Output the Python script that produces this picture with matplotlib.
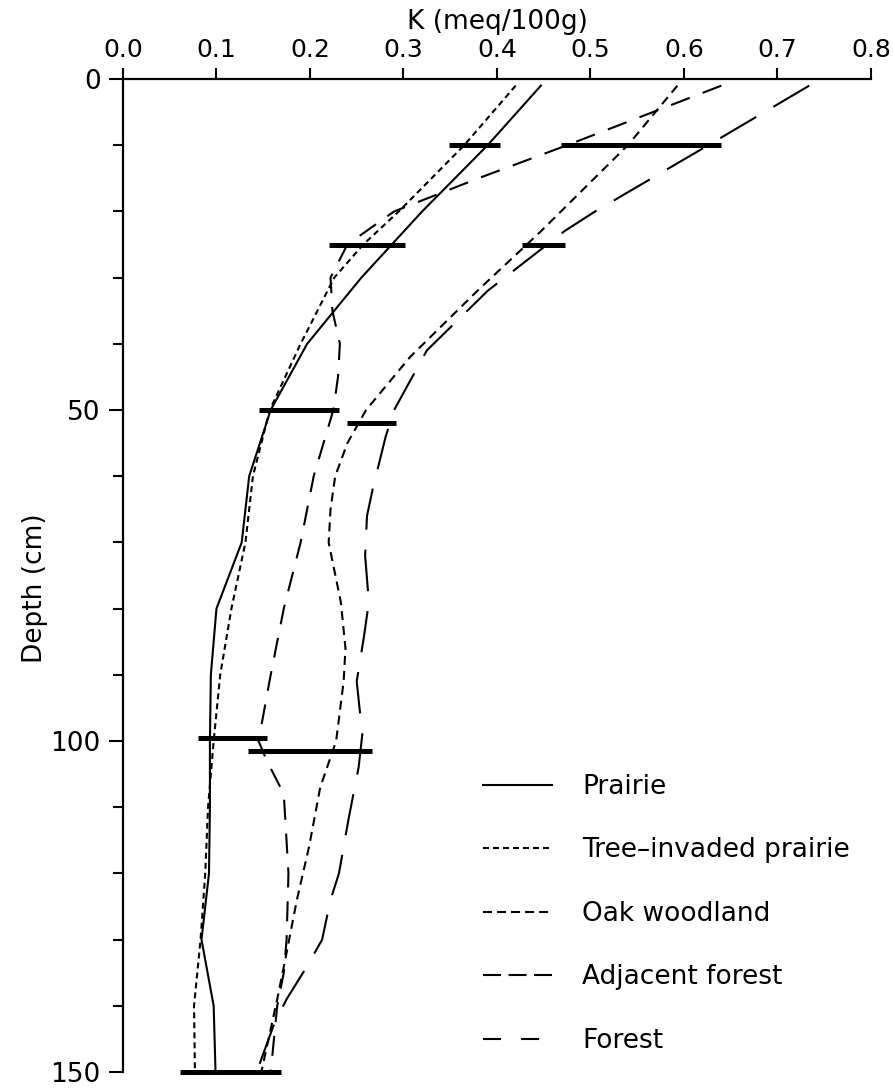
import numpy as np
import matplotlib
matplotlib.use("Agg")
import matplotlib.pyplot as plt
from matplotlib.lines import Line2D
from matplotlib.ticker import MultipleLocator

plt.rcParams["font.family"] = ["DejaVu Sans"]
plt.rcParams["lines.scale_dashes"] = False

# K (meq/100g) profiles, depth in cm
prairie_depth = [1, 10, 20, 30, 40, 50, 60, 70, 80, 90, 100, 110, 120, 130, 140, 150]
prairie_k = [0.447, 0.390, 0.320, 0.255, 0.197, 0.158, 0.135, 0.127, 0.100, 0.094,
             0.093, 0.093, 0.092, 0.084, 0.097, 0.099]

tree_depth = [1, 10, 20, 25, 30, 40, 50, 60, 70, 80, 90, 100, 110, 120, 130, 140, 150]
tree_k = [0.420, 0.365, 0.295, 0.257, 0.226, 0.190, 0.157, 0.139, 0.131, 0.116,
          0.104, 0.097, 0.091, 0.088, 0.083, 0.076, 0.077]

oak_depth = [1, 10, 23, 32, 42, 50, 55, 60, 65, 70, 79, 86, 91, 100, 107, 116,
             124, 132, 139, 150]
oak_k = [0.593, 0.540, 0.447, 0.379, 0.307, 0.260, 0.240, 0.227, 0.222, 0.220,
         0.233, 0.238, 0.236, 0.228, 0.211, 0.199, 0.186, 0.175, 0.165, 0.148]

adj_depth = [1, 10, 15, 20, 25, 30, 35, 40, 45, 50, 60, 70, 80, 90, 100, 103,
             108, 120, 130, 135, 140, 150]
adj_k = [0.640, 0.475, 0.380, 0.290, 0.240, 0.222, 0.224, 0.232, 0.230, 0.225,
         0.204, 0.190, 0.172, 0.158, 0.145, 0.154, 0.172, 0.177, 0.175, 0.172,
         0.165, 0.158]

forest_depth = [1, 10, 20, 23, 32, 41, 50, 54, 62, 66, 72, 79, 84, 91, 99, 104,
                112, 120, 124, 130, 134, 139, 143, 150]
forest_k = [0.734, 0.626, 0.505, 0.472, 0.390, 0.325, 0.290, 0.281, 0.267, 0.261,
            0.259, 0.263, 0.258, 0.250, 0.256, 0.252, 0.241, 0.231, 0.222, 0.213,
            0.197, 0.175, 0.161, 0.143]

# horizontal error bars
bar_depth = [10, 10, 25, 25, 50, 52, 99.5, 101.5, 150]
bar_center = [0.376, 0.554, 0.261, 0.450, 0.188, 0.266, 0.117, 0.200, 0.115]
bar_half = [0.027, 0.086, 0.041, 0.023, 0.043, 0.026, 0.037, 0.066, 0.054]

labels = ["Prairie", "Tree\u2013invaded prairie", "Oak woodland",
          "Adjacent forest", "Forest"]

fig = plt.figure(figsize=(8.93, 10.9), dpi=100)
ax = fig.add_axes([0.1377, 0.0165, 0.8376, 0.911])

lw = 1.5
ax.plot(prairie_k, prairie_depth, color="black", lw=lw)
ax.plot(tree_k, tree_depth, color="black", lw=lw, dashes=(4.3, 2.9))
ax.plot(oak_k, oak_depth, color="black", lw=lw, dashes=(6.5, 4.3))
ax.plot(adj_k, adj_depth, color="black", lw=lw, dashes=(14.4, 10))
ax.plot(forest_k, forest_depth, color="black", lw=lw, dashes=(30, 14.4))

ax.errorbar(bar_center, bar_depth, xerr=bar_half, fmt="none", ecolor="black",
            elinewidth=3.6, capsize=0, clip_on=False)

ax.set_xlim(0, 0.8)
ax.set_ylim(150, 0)
ax.spines["right"].set_visible(False)
ax.spines["bottom"].set_visible(False)
ax.spines["top"].set_linewidth(1.6)
ax.spines["left"].set_linewidth(1.6)

ax.xaxis.tick_top()
ax.xaxis.set_label_position("top")
ax.set_xticks(np.arange(0, 0.81, 0.1))
ax.set_xticklabels([f"{v:.1f}" for v in np.arange(0, 0.81, 0.1)])
ax.set_yticks([0, 50, 100, 150])
ax.yaxis.set_minor_locator(MultipleLocator(10))
ax.tick_params(axis="x", direction="out", length=8, width=1.5, labelsize=18, pad=4)
ax.tick_params(axis="y", which="major", direction="out", length=10, width=1.5,
               labelsize=19, pad=6)
ax.tick_params(axis="y", which="minor", direction="out", length=7, width=1.5)

ax.set_xlabel("K (meq/100g)", fontsize=19)
ax.xaxis.set_label_coords(0.5, 1.05)
ax.set_ylabel("Depth (cm)", fontsize=19)
ax.yaxis.set_label_coords(-0.1, 0.487)

handles = [
    Line2D([], [], color="black", lw=lw),
    Line2D([], [], color="black", lw=lw, dashes=(4.3, 2.9)),
    Line2D([], [], color="black", lw=lw, dashes=(6.5, 3.6)),
    Line2D([], [], color="black", lw=lw, dashes=(13, 5.4)),
    Line2D([], [], color="black", lw=lw, dashes=(13, 14.4)),
]
ax.legend(handles, labels, loc="upper left", bbox_to_anchor=(483 / 893, 1 - 774 / 1090),
          bbox_transform=fig.transFigure, frameon=False, fontsize=19,
          handlelength=2.6, handletextpad=1.17, labelspacing=1.42, borderpad=0,
          borderaxespad=0)

fig.savefig("out.png", dpi=100)
